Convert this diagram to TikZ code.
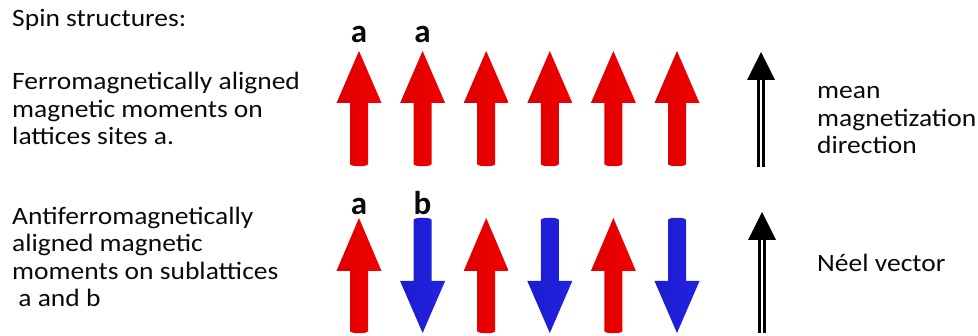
\documentclass[tikz,border=0pt]{standalone}
\usepackage{fontspec}
\setmainfont{Carlito}
\usepackage{xcolor}
\definecolor{Ink}{HTML}{0A0A0A}
\definecolor{SpinRed}{HTML}{FF0000}
\definecolor{SpinRedDark}{HTML}{DD0000}
\definecolor{SpinBlue}{HTML}{2424F0}
\definecolor{SpinBlueDark}{HTML}{1C1CCC}
\usetikzlibrary{positioning,calc}
\tikzset{
  txt/.style={anchor=base west,inner sep=0pt,align=left,text=Ink,
    xscale=1.1,transform shape,font=\fontsize{25}{27.5}\selectfont},
  site/.style={anchor=base,inner sep=0pt,text=Ink,font=\fontsize{33}{33}\selectfont\bfseries},
  spinup/.style={left color=SpinRedDark,middle color=SpinRed,right color=SpinRed!95!black},
  spindown/.style={left color=SpinBlueDark,middle color=SpinBlue,right color=SpinBlue!95!black},
  meanline/.style={draw=black,double=white,double distance=2.5pt,line width=2.7pt},
  meanhead/.style={fill=black}
}
\begin{document}
\begin{tikzpicture}[x=1pt,y=-1pt]
\useasboundingbox (0,0) rectangle (978,336);
% left column texts (base = last line)
\node[txt] (title) at (12,27) {Spin structures:};
\node[txt] (ferro) at (12,145) {Ferromagnetically aligned\\magnetic moments on\\lattices sites a.};
\node[txt] (antiferro) at (12,307) {Antiferromagnetically\\aligned magnetic\\moments on sublattices\\\ a and b};
% ferromagnet: six spins up
\foreach \c in {359,422.6,486.2,549.8,613.4,677}
  \path[spinup] (\c-9,164) -- (\c-9,103) -- (\c-22.5,103) -- (\c,51)
    -- (\c+22.5,103) -- (\c+9,103) -- (\c+9,164)
    .. controls (\c+9,167) and (\c-9,167) .. cycle;
% antiferromagnet: alternating up and down
\foreach \c in {359,486.2,613.4}
  \path[spinup] (\c-9,331) -- (\c-9,271) -- (\c-22.5,271) -- (\c,218)
    -- (\c+22.5,271) -- (\c+9,271) -- (\c+9,331)
    .. controls (\c+9,334) and (\c-9,334) .. cycle;
\foreach \c in {422.6,549.8,677}
  \path[spindown] (\c-9,220) -- (\c-9,281) -- (\c-22.5,281) -- (\c,333)
    -- (\c+22.5,281) -- (\c+9,281) -- (\c+9,220)
    .. controls (\c+9,217) and (\c-9,217) .. cycle;
% site labels
\node[site] (sa1) at (359,43) {a};
\node[site] (sa2) at (422.6,43) {a};
\node[site] (sa3) at (359,215) {a};
\node[site] (sb3) at (422.6,215) {b};
% mean magnetization and Neel vector
\coordinate (mbot) at (761,167);
\coordinate (mtop) at (761,80);
\coordinate (mtip) at (761,52);
\coordinate (nbot) at (762,333);
\coordinate (ntop) at (762,240);
\coordinate (ntip) at (762,212);
\draw[meanline] (mbot) -- (mtop);
\fill[meanhead] ($(mtop)+(-14,0)$) -- (mtip) -- ($(mtop)+(14,0)$) -- cycle;
\draw[meanline] (nbot) -- (ntop);
\fill[meanhead] ($(ntop)+(-14,0)$) -- (ntip) -- ($(ntop)+(14,0)$) -- cycle;
\node[txt] (mean) at (817,154) {mean\\magnetization\\direction};
\node[txt] (neel) at (817,272) {Néel vector};
\end{tikzpicture}
\end{document}
